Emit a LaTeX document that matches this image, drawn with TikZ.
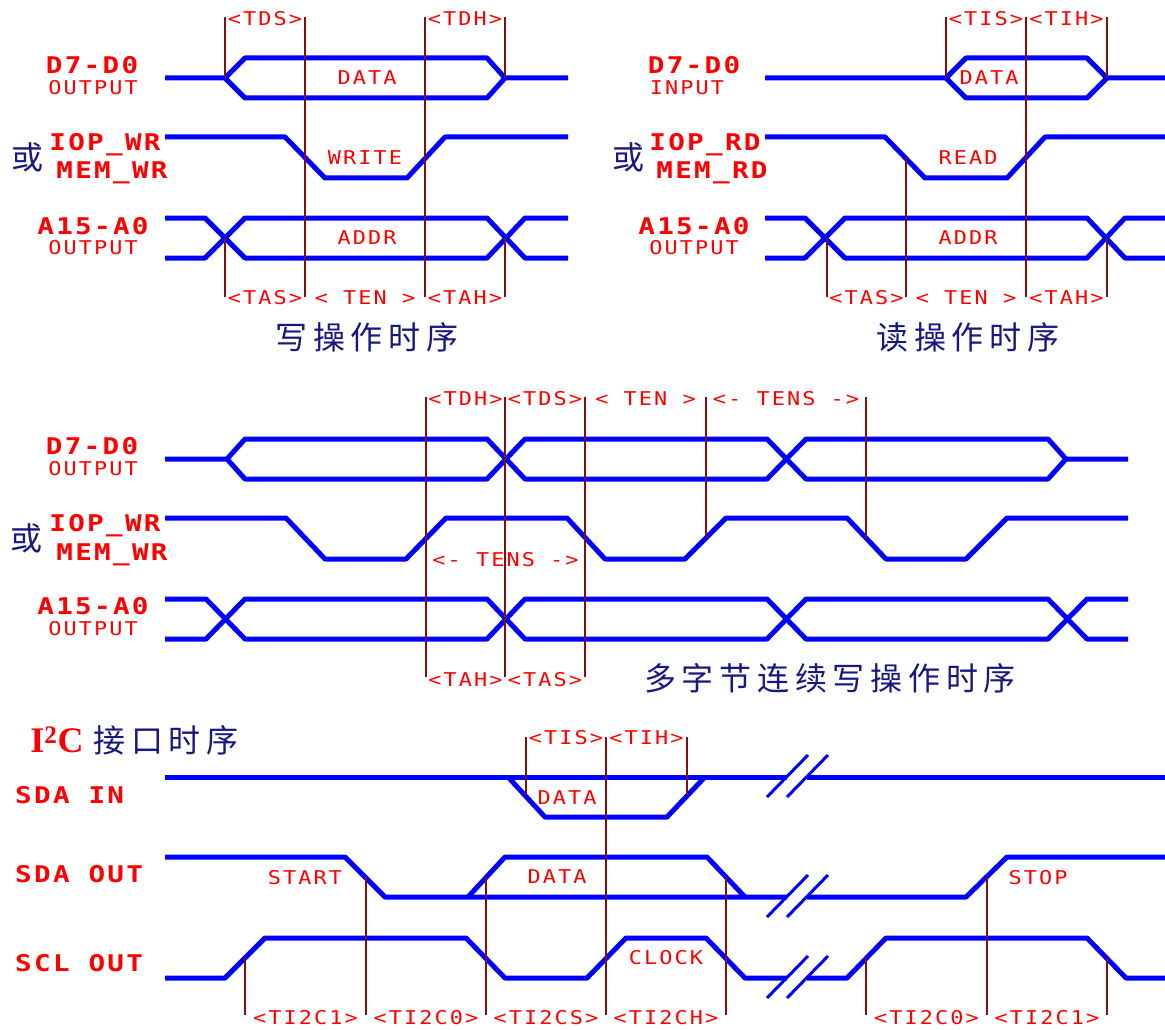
\documentclass[tikz,border=0pt]{standalone}
\usepackage{fontspec}
\newfontfamily\lblfont[FakeStretch=1.15,LetterSpace=11]{DejaVu Sans Mono}
\newfontfamily\boldlbl[FakeStretch=1.2,LetterSpace=10]{DejaVu Sans Mono}
\newfontfamily\cnfont[LetterSpace=18]{Noto Sans CJK SC}
\newfontfamily\iicfont{Liberation Serif}
\definecolor{sigblue}{RGB}{0,0,255}
\definecolor{markred}{RGB}{128,16,16}
\definecolor{lblred}{RGB}{255,0,0}
\definecolor{cnnavy}{RGB}{24,24,128}
\newcommand{\tmlbl}[5]{\node[iolbl] (#1) at ({(#2+#3)/2},#4) {#5};}
\begin{document}
\begin{tikzpicture}[x=1pt,y=-1pt,line join=round,
  sig/.style={line width=5pt,color=sigblue},
  brk/.style={line width=3pt,color=sigblue},
  vline/.style={line width=1.5pt,color=markred},
  siglbl/.style={text=lblred,font=\boldlbl\bfseries\fontsize{23}{23}\selectfont,inner sep=0pt},
  iolbl/.style={text=lblred,font=\lblfont\fontsize{19}{19}\selectfont,inner sep=0pt},
  cntitle/.style={text=cnnavy,font=\cnfont\fontsize{32}{32}\selectfont,inner sep=0pt}]
\useasboundingbox (0,0) rectangle (1165,1030);
\draw[sig] (165,78) -- (225,78) -- (245,58) -- (487,58) -- (505,78) -- (568,78);
\draw[sig] (225,78) -- (245,98) -- (487,98) -- (505,78);
\draw[sig] (765,78) -- (946,78) -- (966,58) -- (1087,58) -- (1107,78) -- (1165,78);
\draw[sig] (946,78) -- (966,98) -- (1087,98) -- (1107,78);
\foreach \s in {0,600}{
  \draw[sig,xshift=\s] (165,137) -- (285,137) -- (325,178) -- (407,178) -- (445,137) -- (568,137);
  \draw[sig,xshift=\s] (165,218) -- (205,218) -- (245,258) -- (487,258) -- (525,218) -- (568,218);
  \draw[sig,xshift=\s] (165,258) -- (205,258) -- (245,218) -- (487,218) -- (525,258) -- (568,258);
}
\foreach \x/\a/\b in {225/17/78,305/17/297,425/17/297,505/17/78,225/238/297,505/238/297,
  946/17/78,1026/17/297,1107/17/78,827/238/297,906/157/297,1107/238/297}
  \draw[vline] (\x,\a) -- (\x,\b);
\node[siglbl] (d1) at (92,65) {D7-D0};
\node[iolbl] (o1) at (93,88) {OUTPUT};
\node[cntitle] (or1) at (27,157) {或};
\node[siglbl] (wr1) at (105,145) {IOP\_WR};
\node[siglbl] (mw1) at (112,173) {MEM\_WR};
\node[siglbl] (a1) at (93,226) {A15-A0};
\node[iolbl] (o2) at (93,248) {OUTPUT};
\node[iolbl] (dat1) at (367,78) {DATA};
\node[iolbl] (wrt1) at (365,158) {WRITE};
\node[iolbl] (adr1) at (367,238) {ADDR};
\tmlbl{tds1}{225}{305}{19}{<TDS>}
\tmlbl{tdh1}{425}{505}{19}{<TDH>}
\tmlbl{tas1}{225}{305}{298}{<TAS>}
\tmlbl{ten1}{305}{425}{298}{< TEN >}
\tmlbl{tah1}{425}{505}{298}{<TAH>}
\node[cntitle] (wt) at (367,337) {写操作时序};
\node[siglbl] (d2) at (694,65) {D7-D0};
\node[iolbl] (i2) at (687,88) {INPUT};
\node[cntitle] (or2) at (628,157) {或};
\node[siglbl] (rd2) at (705,145) {IOP\_RD};
\node[siglbl] (mr2) at (712,173) {MEM\_RD};
\node[siglbl] (a2) at (694,226) {A15-A0};
\node[iolbl] (o3) at (694,248) {OUTPUT};
\node[iolbl] (dat2) at (989,78) {DATA};
\node[iolbl] (red2) at (968,158) {READ};
\node[iolbl] (adr2) at (968,238) {ADDR};
\tmlbl{tis2}{946}{1026}{19}{<TIS>}
\tmlbl{tih2}{1026}{1107}{19}{<TIH>}
\tmlbl{tas2}{827}{906}{298}{<TAS>}
\tmlbl{ten2}{906}{1026}{298}{< TEN >}
\tmlbl{tah2}{1026}{1107}{298}{<TAH>}
\node[cntitle] (rt) at (968,337) {读操作时序};
\draw[sig] (165,459) -- (227,459) -- (245,439) -- (487,439) -- (525,479) -- (767,479) -- (806,439) -- (1048,439) -- (1066,459) -- (1128,459);
\draw[sig] (227,459) -- (245,479) -- (487,479) -- (525,439) -- (767,439) -- (806,479) -- (1048,479) -- (1066,459);
\draw[sig] (165,518) -- (286,518) -- (325,559) -- (406,559) -- (446,518) -- (567,518) -- (605,559) -- (685,559) -- (726,518) -- (847,518) -- (886,559) -- (966,559) -- (1007,518) -- (1128,518);
\draw[sig] (165,599) -- (206,599) -- (245,639) -- (487,639) -- (525,599) -- (767,599) -- (806,639) -- (1048,639) -- (1087,599) -- (1128,599);
\draw[sig] (165,639) -- (206,639) -- (245,599) -- (487,599) -- (525,639) -- (767,639) -- (806,599) -- (1048,599) -- (1087,639) -- (1128,639);
\foreach \x/\a/\b in {426/397/677,505/397/677,585/397/677,706/397/538,866/397/538}
  \draw[vline] (\x,\a) -- (\x,\b);
\node[siglbl] (d3) at (92,446) {D7-D0};
\node[iolbl] (o4) at (93,469) {OUTPUT};
\node[cntitle] (or3) at (26,538) {或};
\node[siglbl] (wr3) at (105,526) {IOP\_WR};
\node[siglbl] (mw3) at (112,555) {MEM\_WR};
\node[siglbl] (a3) at (93,606) {A15-A0};
\node[iolbl] (o5) at (93,629) {OUTPUT};
\tmlbl{tdh3}{426}{505}{399}{<TDH>}
\tmlbl{tds3}{505}{585}{399}{<TDS>}
\tmlbl{ten3}{585}{706}{399}{< TEN >}
\tmlbl{tens3}{706}{866}{399}{<- TENS ->}
\tmlbl{tens4}{426}{585}{560}{<- TENS ->}
\tmlbl{tah3}{426}{505}{680}{<TAH>}
\tmlbl{tas3}{505}{585}{680}{<TAS>}
\node[cntitle] (mt) at (830,678) {多字节连续写操作时序};
\draw[sig] (165,777) -- (787,777);
\draw[sig] (807,777) -- (1165,777);
\draw[sig] (508,777) -- (545,817) -- (667,817) -- (705,777);
\draw[sig] (165,857) -- (345,857) -- (385,897) -- (787,897);
\draw[sig] (468,897) -- (505,857) -- (707,857) -- (745,897);
\draw[sig] (807,897) -- (966,897) -- (1007,857) -- (1165,857);
\draw[sig] (165,978) -- (225,978) -- (265,938) -- (466,938) -- (505,978) -- (587,978) -- (626,938) -- (706,938) -- (745,978) -- (787,978);
\draw[sig] (807,978) -- (847,978) -- (886,938) -- (1087,938) -- (1126,978) -- (1165,978);
\foreach \y in {777,897,978}{
  \draw[brk] (767,{\y+20}) -- (808,{\y-22});
  \draw[brk] (787,{\y+20}) -- (828,{\y-22});
}
\foreach \x/\a/\b in {526/737/795,606/737/1015,687/737/795,245/958/1015,366/877/1015,
  486/877/1015,726/877/1015,866/958/1015,987/877/1015,1107/958/1015}
  \draw[vline] (\x,\a) -- (\x,\b);
\node[text=lblred,font=\iicfont\bfseries\fontsize{36}{36}\selectfont,inner sep=0pt] (iic) at (57,740) {I\textsuperscript{2}C};
\node[cntitle] (it) at (166,740) {接口时序};
\node[siglbl,anchor=west] (sdi) at (15,795) {SDA IN};
\node[siglbl,anchor=west] (sdo) at (15,874) {SDA OUT};
\node[siglbl,anchor=west] (sco) at (15,963) {SCL OUT};
\node[iolbl] (dat4) at (567,798) {DATA};
\node[iolbl] (stt) at (305,878) {START};
\node[iolbl] (dat5) at (557,877) {DATA};
\node[iolbl] (stp) at (1038,878) {STOP};
\node[iolbl] (clk) at (666,958) {CLOCK};
\tmlbl{tis4}{526}{606}{738}{<TIS>}
\tmlbl{tih4}{606}{687}{738}{<TIH>}
\tmlbl{tc1}{245}{366}{1018}{<TI2C1>}
\tmlbl{tc0}{366}{486}{1018}{<TI2C0>}
\tmlbl{tcs}{486}{606}{1018}{<TI2CS>}
\tmlbl{tch}{606}{726}{1018}{<TI2CH>}
\tmlbl{tc2}{866}{987}{1018}{<TI2C0>}
\tmlbl{tc3}{987}{1107}{1018}{<TI2C1>}
\end{tikzpicture}
\end{document}
